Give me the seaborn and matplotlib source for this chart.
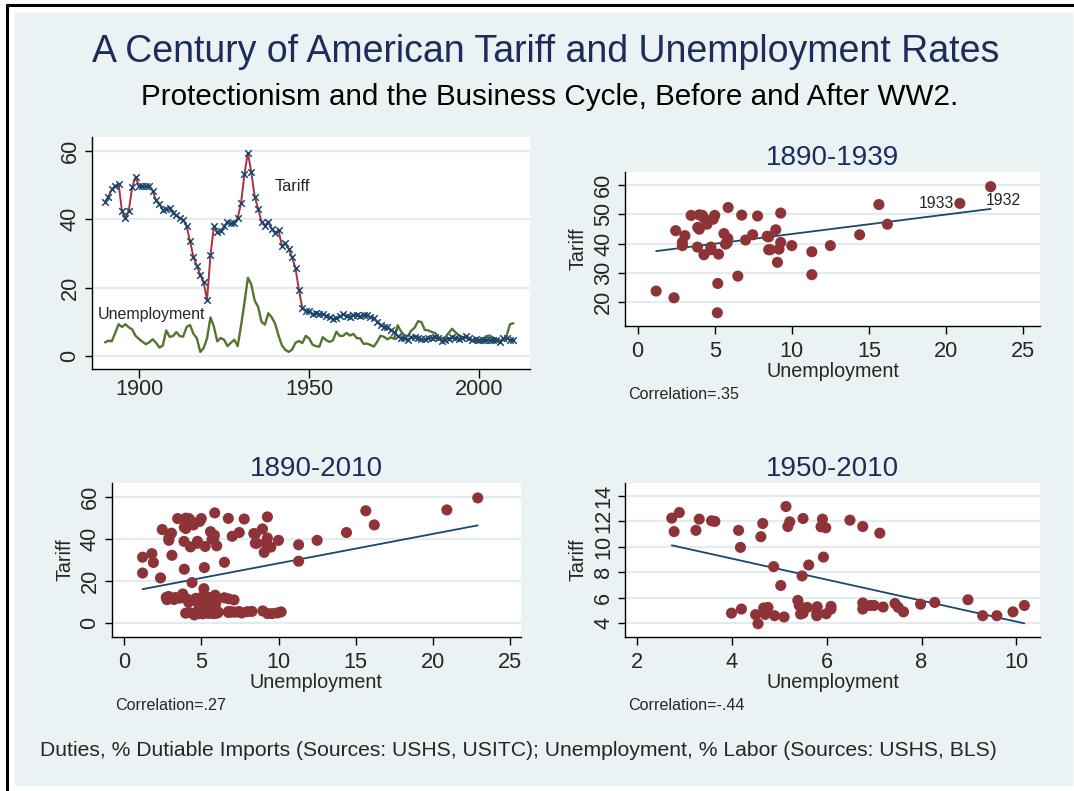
import matplotlib
matplotlib.use("Agg")
import matplotlib.pyplot as plt
import pandas as pd
import seaborn as sns
from matplotlib.lines import Line2D
from matplotlib.patches import Rectangle

# Annual series, 1890-2010.
years = list(range(1890, 2011))

tariff = [
    44.9, 46.6, 48.7, 49.7, 50.4, 42.3, 40.4, 42.5, 49.4, 52.3,   # 1890s
    49.6, 49.6, 49.6, 49.8, 48.3, 45.5, 44.4, 42.7, 43.0, 43.4,   # 1900s
    41.7, 41.2, 40.2, 39.8, 37.9, 33.6, 28.9, 26.4, 23.8, 21.5,   # 1910s
    16.4, 29.4, 37.9, 36.2, 36.4, 37.9, 39.3, 38.8, 38.8, 40.4,   # 1920s
    44.7, 53.3, 59.4, 53.7, 46.6, 43.0, 39.3, 38.1, 39.3, 37.2,   # 1930s
    36.1, 36.7, 32.2, 33.0, 31.3, 28.8, 25.6, 19.3, 13.9, 13.3,   # 1940s
    13.17, 12.18, 12.7, 12.26, 12.23, 11.84, 11.3, 10.8, 11.08, 11.58,  # 1950s
    12.18, 11.6, 11.5, 12.1, 11.97, 11.6, 12.05, 12.0, 11.3, 11.2,     # 1960s
    9.96, 9.2, 8.58, 8.45, 7.72, 6.97, 5.85, 5.28, 5.33, 4.8,          # 1970s
    5.56, 5.64, 5.4, 4.9, 4.9, 5.25, 5.4, 5.6, 5.4, 4.5,               # 1980s
    4.8, 5.12, 5.5, 5.4, 5.12, 5.25, 5.8, 5.25, 4.68, 5.12,            # 1990s
    4.8, 4.7, 4.6, 4.75, 4.73, 4.6, 3.97, 5.2, 5.3, 4.6,               # 2000s
    4.6,                                                               # 2010
]

unemployment = [
    4.0, 4.5, 4.3, 6.75, 9.28, 8.5, 9.28, 8.4, 7.78, 5.87,
    5.0, 4.2, 3.47, 4.0, 4.9, 3.9, 2.47, 3.07, 7.46, 5.6,
    5.85, 7.0, 5.8, 5.7, 8.5, 9.07, 6.5, 5.2, 1.2, 2.36,
    5.17, 11.3, 8.6, 4.3, 5.25, 4.75, 2.9, 3.88, 4.75, 2.9,
    8.96, 15.65, 22.9, 20.9, 16.2, 14.4, 10.0, 9.17, 12.5, 11.3,
    9.5, 6.0, 3.1, 1.8, 1.2, 1.9, 3.9, 4.4, 3.8, 5.9,
    5.14, 3.31, 2.89, 2.73, 5.5, 4.65, 4.14, 4.61, 7.12, 5.88,
    5.91, 6.76, 5.98, 6.49, 5.22, 5.18, 3.57, 3.64, 3.24, 2.78,
    4.18, 5.93, 5.62, 4.88, 5.48, 5.03, 8.98, 7.19, 6.09, 5.79,
    7.44, 8.28, 10.17, 9.93, 7.62, 7.51, 7.0, 6.76, 5.42, 5.1,
    5.5, 6.76, 7.98, 6.92, 6.09, 5.59, 5.39, 4.76, 4.5, 4.2,
    3.99, 4.7, 5.79, 5.99, 5.45, 4.9, 4.55, 4.67, 5.8, 9.29,
    9.59,
]

panel_titles = ["1890-1939", "1890-2010", "1950-2010"]
panel_ranges = [(1890, 1939), (1890, 2010), (1950, 2010)]
corr_notes = ["Correlation=.35", "Correlation=.27", "Correlation=-.44"]
labelled_years = [1932, 1933]

df = pd.DataFrame({"year": years, "tariff": tariff, "unemp": unemployment})

BG = "#EAF2F3"
GRID = "#E2ECEE"
NAVY = "#1A476F"
MAROON = "#8E3438"
RED = "#A8323E"
GREEN = "#55752F"
TITLE = "#1C2D5C"

sns.set_theme(style="white")
plt.rcParams["font.family"] = ["Liberation Sans", "DejaVu Sans"]

W, H = 1074, 791
fig = plt.figure(figsize=(W / 100, H / 100), dpi=100)
fig.patch.set_facecolor("white")
fig.add_artist(Rectangle((15 / W, 1 - 785 / H), (1072 - 15) / W, (785 - 13) / H,
                         transform=fig.transFigure, color=BG, zorder=-10))
fig.add_artist(Line2D([7 / W, 7 / W], [0, 1 - 5 / H], transform=fig.transFigure,
                      color="black", lw=2.2))
fig.add_artist(Line2D([7 / W, 1], [1 - 5 / H, 1 - 5 / H], transform=fig.transFigure,
                      color="black", lw=2.2))


def px_axes(left, right, top, bottom, xpad=5.0, tick_len=6):
    ax = fig.add_axes([left / W, 1 - bottom / H, (right - left) / W, (bottom - top) / H])
    ax.set_facecolor("white")
    for side in ("top", "right"):
        ax.spines[side].set_visible(False)
    for side in ("left", "bottom"):
        ax.spines[side].set_color("black")
        ax.spines[side].set_linewidth(1.0)
    ax.tick_params(direction="out", length=tick_len, width=1.0, color="black",
                   labelsize=15.7, left=True, bottom=True)
    ax.tick_params(axis="x", pad=xpad)
    ax.tick_params(axis="y", labelrotation=90, pad=3, length=5)
    ax.grid(axis="y", color=GRID, lw=1.6)
    ax.set_axisbelow(True)
    return ax


def fix_ylabels(ax):
    for lab in ax.get_yticklabels():
        lab.set_va("center")


# Time series panel
ax = px_axes(91.7, 530, 136.7, 368.7, xpad=0.8, tick_len=6.5)
sns.lineplot(data=df, x="year", y="unemp", color=GREEN, lw=1.7, ax=ax)
sns.lineplot(data=df, x="year", y="tariff", color=RED, lw=1.4, ax=ax)
sns.scatterplot(data=df, x="year", y="tariff", marker="x", color=NAVY, s=22,
                linewidth=1.1, ax=ax, zorder=3)
ax.set_xlim(1886.1, 2014.9)
ax.set_ylim(-3.7, 64.1)
ax.set_xticks([1900, 1950, 2000])
ax.set_yticks([0, 20, 40, 60])
ax.set_xlabel("")
ax.set_ylabel("")
fix_ylabels(ax)
ax.text(1940, 49.5, "Tariff", fontsize=11.8, va="center")
ax.text(1888, 12, "Unemployment", fontsize=11.5, va="center")

# Scatter panels
specs = [
    (625.3, 1040, 171.7, 325.7, (-0.8, 26.1), (12.0, 64.5), [0, 5, 10, 15, 20, 25], [20, 30, 40, 50, 60]),
    (111.7, 521, 482.7, 636.7, (-0.8, 25.7), (-6.35, 66.6), [0, 5, 10, 15, 20, 25], [0, 20, 40, 60]),
    (625.3, 1040, 482.7, 636.7, (1.75, 10.5), (2.95, 15.04), [2, 4, 6, 8, 10], [4, 6, 8, 10, 12, 14]),
]
note_pos = [(628, 395), (115, 705), (628, 705)]

for i, (l, r, t, b, xl, yl, xt, yt) in enumerate(specs):
    lo, hi = panel_ranges[i]
    sub = df[(df["year"] >= lo) & (df["year"] <= hi)]
    ax = px_axes(l, r, t, b)
    sns.scatterplot(data=sub, x="unemp", y="tariff", color=MAROON, s=64,
                    edgecolor="none", ax=ax, zorder=3)
    sns.regplot(data=sub, x="unemp", y="tariff", scatter=False, ci=None,
                color=NAVY, line_kws=dict(lw=1.3), ax=ax)
    ax.set_xlim(*xl)
    ax.set_ylim(*yl)
    ax.set_xticks(xt)
    ax.set_yticks(yt)
    ax.set_xlabel("Unemployment", fontsize=14.2, labelpad=0)
    ax.set_ylabel("Tariff", fontsize=14.2, labelpad=4)
    fix_ylabels(ax)
    ax.set_title(panel_titles[i], fontsize=20, color=TITLE, pad=5)
    fig.text(note_pos[i][0] / W, 1 - note_pos[i][1] / H, corr_notes[i],
             fontsize=11.6, va="center", ha="left")
    if i == 0:
        for yr in labelled_years:
            row = sub[sub["year"] == yr].iloc[0]
            if yr == 1932:
                ax.annotate(str(yr), (row["unemp"], row["tariff"]), xytext=(9, -10),
                            textcoords="offset points", ha="center", va="center", fontsize=11.3)
            else:
                ax.annotate(str(yr), (row["unemp"], row["tariff"]), xytext=(-4, 0),
                            textcoords="offset points", ha="right", va="center", fontsize=11.3)

fig.text(546 / W, 1 - 52 / H, "A Century of American Tariff and Unemployment Rates",
         fontsize=27, color=TITLE, ha="center", va="center")
fig.text(550 / W, 1 - 97 / H, "Protectionism and the Business Cycle, Before and After WW2.",
         fontsize=21.3, color="black", ha="center", va="center")
fig.text(40 / W, 1 - 750 / H,
         "Duties, % Dutiable Imports (Sources: USHS, USITC); Unemployment, % Labor (Sources: USHS, BLS)",
         fontsize=15.2, ha="left", va="center")

fig.savefig("out.png", dpi=100)
